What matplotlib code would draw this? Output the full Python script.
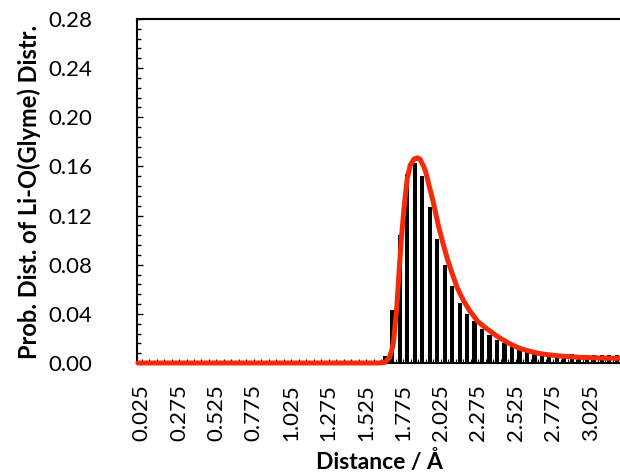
import matplotlib
matplotlib.use("Agg")
import matplotlib.pyplot as plt
from matplotlib.ticker import FixedLocator, FuncFormatter

# Histogram of Li-O(glyme) distances (bin centres every 0.05 Å; empty bins omitted)
bar_dist = [1.65, 1.70, 1.75, 1.80, 1.85, 1.90, 1.95, 2.00, 2.05, 2.10, 2.15,
            2.20, 2.25, 2.30, 2.35, 2.40, 2.45, 2.50, 2.55, 2.60, 2.65, 2.70,
            2.75, 2.80, 2.85, 2.90, 2.95, 3.00, 3.05, 3.10, 3.15, 3.20]
bar_prob = [0.006, 0.043, 0.104, 0.154, 0.163, 0.152, 0.127, 0.101, 0.080,
            0.063, 0.049, 0.040, 0.034, 0.028, 0.023, 0.019, 0.016, 0.013,
            0.011, 0.0095, 0.0085, 0.008, 0.0075, 0.0072, 0.0070, 0.0070,
            0.0068, 0.0068, 0.0067, 0.0067, 0.0066, 0.0066]

# Smoothed distribution curve
curve_dist = [0.0, 1.61, 1.65, 1.68, 1.70, 1.71, 1.73, 1.745, 1.76, 1.78,
              1.80, 1.82, 1.845, 1.87, 1.885, 1.91, 1.925, 1.945, 1.97, 2.01,
              2.04, 2.07, 2.10, 2.135, 2.175, 2.215, 2.27, 2.33, 2.41, 2.48,
              2.55, 2.62, 2.68, 2.75, 2.82, 2.95, 3.08, 3.22]
curve_prob = [0.0, 0.0, 0.0005, 0.004, 0.012, 0.019, 0.045, 0.073, 0.100,
              0.128, 0.150, 0.161, 0.166, 0.167, 0.166, 0.160, 0.155, 0.145,
              0.133, 0.111, 0.097, 0.084, 0.073, 0.061, 0.051, 0.043, 0.034,
              0.028, 0.021, 0.016, 0.012, 0.0095, 0.0078, 0.0066, 0.0057,
              0.0046, 0.0041, 0.0038]

# Category labels along the distance axis
x_labels = ["0.025", "0.275", "0.525", "0.775", "1.025", "1.275", "1.525",
            "1.775", "2.025", "2.275", "2.525", "2.775", "3.025"]
y_ticks = [0.00, 0.04, 0.08, 0.12, 0.16, 0.20, 0.24, 0.28]

FONT = "Lato"
RED = "#F52A0A"

fig = plt.figure(figsize=(6.2, 4.76), dpi=100)
ax = fig.add_axes([137 / 620, (476 - 363) / 476, (620 - 137) / 620, (363 - 19) / 476])

ax.bar(bar_dist, bar_prob, width=0.028, color="black", linewidth=0, zorder=2)
ax.plot(curve_dist, curve_prob, color=RED, linewidth=3.6, solid_capstyle="round",
        solid_joinstyle="round", zorder=3, clip_on=False)

ax.set_xlim(-0.006, 3.222)
ax.set_ylim(0, 0.28)

# x ticks: one per category, labels every tenth category
label_pos = [float(s) for s in x_labels]
major_x = [0.025 + 0.05 * k for k in range(65)]
minor_x = [0.05 * k for k in range(1, 65)]
ax.xaxis.set_major_locator(FixedLocator(major_x))
ax.xaxis.set_minor_locator(FixedLocator(minor_x))


def xfmt(v, pos):
    for s, p in zip(x_labels, label_pos):
        if abs(v - p) < 1e-6:
            return s
    return ""


ax.xaxis.set_major_formatter(FuncFormatter(xfmt))
ax.tick_params(axis="x", which="major", direction="in", length=3.2, width=0.8,
               color="black", rotation=90, labelsize=16, pad=15)
ax.tick_params(axis="x", which="minor", direction="in", length=1.8, width=0.8,
               color="black")

ax.yaxis.set_major_locator(FixedLocator(y_ticks))
ax.yaxis.set_minor_locator(FixedLocator([0.008 * k for k in range(36)]))
ax.yaxis.set_major_formatter(FuncFormatter(lambda v, p: f"{v:.2f}"))
ax.tick_params(axis="y", which="major", direction="in", length=4.5, width=1.0,
               labelsize=16, pad=8)
ax.tick_params(axis="y", which="minor", direction="in", length=3.0, width=1.0)

for lab in ax.get_xticklabels() + ax.get_yticklabels():
    lab.set_fontfamily(FONT)
for lab in ax.get_yticklabels():
    lab.set_horizontalalignment("center")
    lab.set_x(-0.115)

ax.spines["right"].set_visible(False)
for side in ("left", "top", "bottom"):
    ax.spines[side].set_linewidth(1.5)
    ax.spines[side].set_color("black")

ax.set_xlabel("Distance / Å", fontfamily=FONT, fontweight="bold", fontsize=16.5)
ax.xaxis.set_label_coords((379 - 137) / 483, -(462 - 363) / 344)
ax.xaxis.label.set_verticalalignment("center")
ax.set_ylabel("Prob. Dist. of Li-O(Glyme) Distr.", fontfamily=FONT,
              fontweight="bold", fontsize=17)
ax.yaxis.set_label_coords(-(137 - 29) / 483, (363 - 192) / 344)
ax.yaxis.label.set_verticalalignment("center")

fig.savefig("out.png", dpi=100)
